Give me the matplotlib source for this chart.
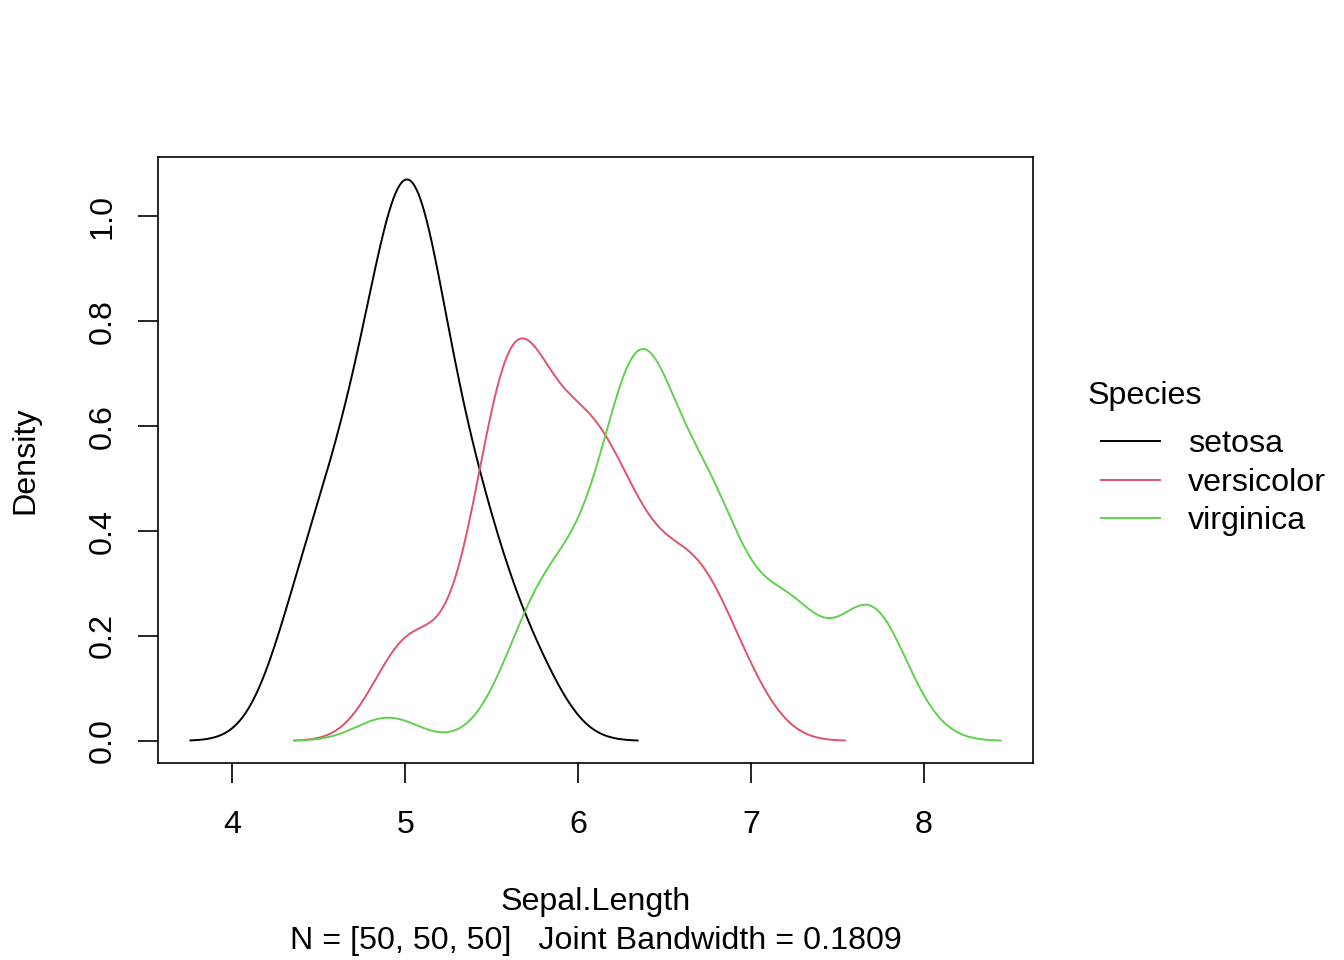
import numpy as np
import matplotlib
matplotlib.use("Agg")
import matplotlib.pyplot as plt
from matplotlib.lines import Line2D

plt.rcParams['font.family'] = ['Liberation Sans', 'DejaVu Sans']

# Iris Sepal.Length observations by species (N = 50 each)
species = ["setosa", "versicolor", "virginica"]
setosa = [5.1, 4.9, 4.7, 4.6, 5.0, 5.4, 4.6, 5.0, 4.4, 4.9, 5.4, 4.8, 4.8, 4.3, 5.8,
          5.7, 5.4, 5.1, 5.7, 5.1, 5.4, 5.1, 4.6, 5.1, 4.8, 5.0, 5.0, 5.2, 5.2, 4.7,
          4.8, 5.4, 5.2, 5.5, 4.9, 5.0, 5.5, 4.9, 4.4, 5.1, 5.0, 4.5, 4.4, 5.0, 5.1,
          4.8, 5.1, 4.6, 5.3, 5.0]
versicolor = [7.0, 6.4, 6.9, 5.5, 6.5, 5.7, 6.3, 4.9, 6.6, 5.2, 5.0, 5.9, 6.0, 6.1, 5.6,
              6.7, 5.6, 5.8, 6.2, 5.6, 5.9, 6.1, 6.3, 6.1, 6.4, 6.6, 6.8, 6.7, 6.0, 5.7,
              5.5, 5.5, 5.8, 6.0, 5.4, 6.0, 6.7, 6.3, 5.6, 5.5, 5.5, 6.1, 5.8, 5.0, 5.6,
              5.7, 5.7, 6.2, 5.1, 5.7]
virginica = [6.3, 5.8, 7.1, 6.3, 6.5, 7.6, 4.9, 7.3, 6.7, 7.2, 6.5, 6.4, 6.8, 5.7, 5.8,
             6.4, 6.5, 7.7, 7.7, 6.0, 6.9, 5.6, 7.7, 6.3, 6.7, 7.2, 6.2, 6.1, 6.4, 7.2,
             7.4, 7.9, 6.4, 6.3, 6.1, 7.7, 6.3, 6.4, 6.0, 6.9, 6.7, 6.9, 5.8, 6.8, 6.7,
             6.7, 6.3, 6.5, 6.2, 5.9]
bandwidth = 0.1809
colors = ["#000000", "#DF536B", "#61D04F"]
xticks = [4, 5, 6, 7, 8]
yticks = [0.0, 0.2, 0.4, 0.6, 0.8, 1.0]


def kde(data, bw, n=512, cut=3):
    d = np.asarray(data, dtype=float)
    xs = np.linspace(d.min() - cut * bw, d.max() + cut * bw, n)
    ys = np.exp(-0.5 * ((xs[:, None] - d[None, :]) / bw) ** 2).sum(axis=1)
    ys /= (len(d) * bw * np.sqrt(2 * np.pi))
    return xs, ys


FS = 23.2
fig = plt.figure(figsize=(13.44, 9.6), dpi=100)
W, H = 1344, 960
L, R, T, B = 158, 1033, 157, 763
ax = fig.add_axes([L / W, 1 - B / H, (R - L) / W, (B - T) / H])

curves = [kde(s, bandwidth) for s in (setosa, versicolor, virginica)]
for (xs, ys), c in zip(curves, colors):
    ax.plot(xs, ys, color=c, lw=1.4)

allx = np.concatenate([c[0] for c in curves])
ally = np.concatenate([c[1] for c in curves])
xr = allx.max() - allx.min()
yr = ally.max() - ally.min()
ax.set_xlim(allx.min() - 0.04 * xr, allx.max() + 0.04 * xr)
ax.set_ylim(ally.min() - 0.04 * yr, ally.max() + 0.04 * yr)

ax.set_xticks(xticks)
ax.set_xticklabels([str(t) for t in xticks])
ax.set_yticks(yticks)
ax.set_yticklabels([f"{t:.1f}" for t in yticks], rotation=90, va="center")
ax.tick_params(direction="out", length=14.5, width=1.2, labelsize=FS)
ax.tick_params(axis="x", pad=19.5)
ax.tick_params(axis="y", pad=14.5)
for sp in ax.spines.values():
    sp.set_linewidth(1.2)

fig.text((L + R) / 2 / W, 1 - 902 / H, "Sepal.Length", ha="center", va="center", fontsize=FS)
fig.text((L + R) / 2 / W, 1 - 941 / H, "N = [50, 50, 50]   Joint Bandwidth = 0.1809",
         ha="center", va="center", fontsize=FS)
fig.text(25 / W, 1 - 460 / H, "Density", ha="center", va="center", rotation=90, fontsize=FS)

# Legend
fig.text(1088 / W, 1 - 396 / H, "Species", ha="left", va="center", fontsize=FS)
ly = [441, 480, 518]
for name, c, y in zip(species, colors, ly):
    fig.add_artist(Line2D([1101 / W, 1160 / W], [1 - y / H, 1 - y / H], color=c, lw=1.4,
                          transform=fig.transFigure))
    fig.text(1188 / W, 1 - (y + 3) / H, name, ha="left", va="center", fontsize=FS)

fig.savefig("out.png", dpi=100)
